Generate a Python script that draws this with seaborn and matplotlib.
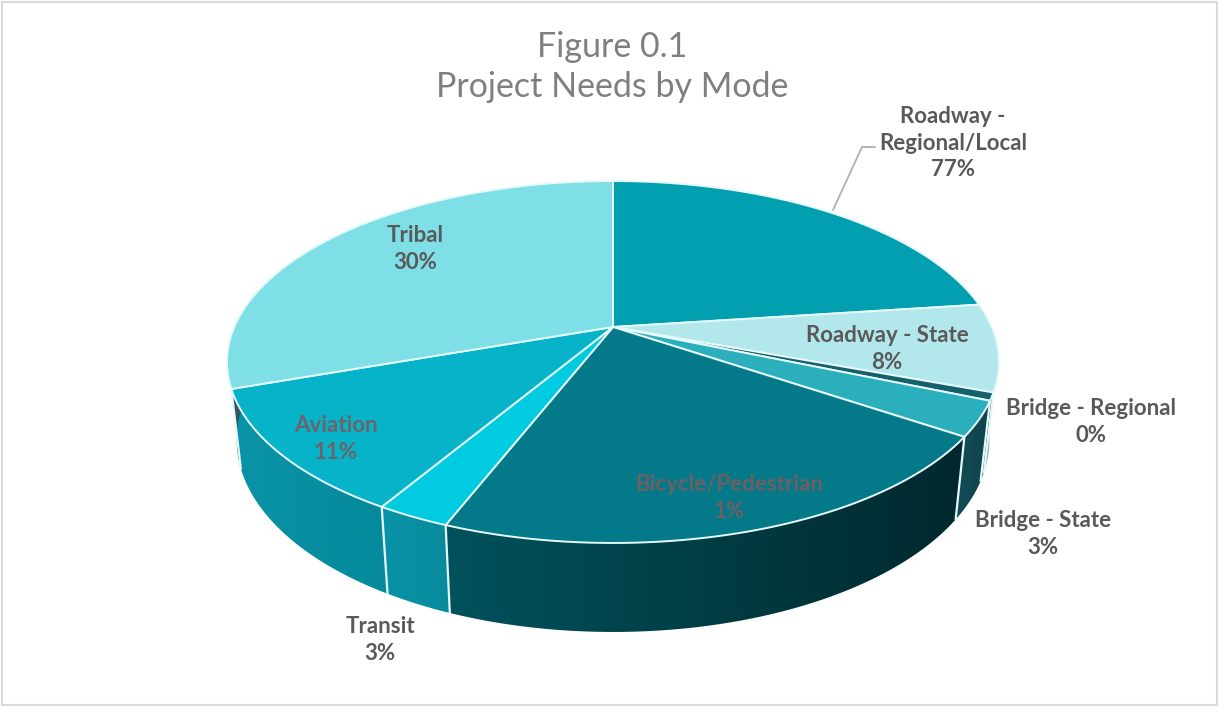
import numpy as np
import pandas as pd
import seaborn as sns
import matplotlib.pyplot as plt
from matplotlib.colors import LinearSegmentedColormap
from matplotlib.patches import Polygon, Rectangle

modes = ['Roadway -\nRegional/Local', 'Roadway - State', 'Bridge - Regional', 'Bridge - State',
         'Bicycle/Pedestrian', 'Transit', 'Aviation', 'Tribal']
shares = [22.9, 7.8, 0.7, 3.1, 21.4, 2.6, 11.1, 30.4]
printed = ['77%', '8%', '0%', '3%', '1%', '3%', '11%', '30%']

top_colors = ['#029fb0', '#b2e8ec', '#14606c', '#2bafbd', '#04798a', '#00cbe0', '#07b3c9', '#7fdfe6']
wall_left = ['#0a8ea1', '#8fc4cb', '#1c5a63', '#134c55', '#00525c', '#0a93a8', '#0a93a8', '#2d5a62']
wall_right = ['#0a8ea1', '#6a9ea6', '#14444c', '#0f434b', '#00282d', '#088a9c', '#05899b', '#2d5a62']

label_x = [953, 887, 1091, 1043, 729, 380, 336, 415]
label_y = [143, 349, 422, 534, 498, 640, 439, 249]
label_colors = ['#595959', '#595959', '#595959', '#595959', '#6e5f62', '#595959', '#6b6468', '#595959']

df = pd.DataFrame({'mode': modes, 'share': shares, 'printed': printed})

# pie geometry in image pixels
APEX_X, APEX_Y = 613, 327
K = 0.1934
A = 174.2
B = 378.7
BOTTOM_Y = 632
TOP_FRONT_Y = 543


def project(angle):
    # tilted circle, angle clockwise from 12 o'clock
    u, v = np.sin(angle), -np.cos(angle)
    d = 1 - K * v
    return APEX_X + B * u / d, APEX_Y + A * v / d


def drop(x, y):
    # matching point on the lower rim
    return APEX_X + 0.975 * (x - APEX_X), BOTTOM_Y - 1.06 * (TOP_FRONT_Y - y)


sns.set_theme(style='white')
plt.rcParams['font.family'] = ['Lato', 'DejaVu Sans']

fig = plt.figure(figsize=(12.2, 7.07), dpi=100)
ax = fig.add_axes([0, 0, 1, 1])
ax.axis('off')

ax.add_patch(Rectangle((2, 2), 1215, 703, fill=False, ec='#d9d9d9', lw=1.5))

palette = sns.color_palette(top_colors)
edges = np.radians(np.concatenate([[0], np.cumsum(df['share'])]) * 360 / df['share'].sum())
ramp = np.linspace(0, 1, 256).reshape(1, -1)

# side wall first, each slice gets a left to right gradient clipped to its outline
for i in range(len(df)):
    a = np.linspace(edges[i], edges[i + 1], 80)
    x, y = project(a)
    xb, yb = drop(x, y)
    px, py = np.r_[x, xb[::-1]], np.r_[y, yb[::-1]]
    cmap = LinearSegmentedColormap.from_list('wall', [wall_left[i], wall_right[i]])
    im = ax.imshow(ramp, cmap=cmap, aspect='auto', interpolation='bilinear', zorder=2,
                   extent=[px.min(), px.max(), py.max(), py.min()])
    outline = Polygon(np.c_[px, py], closed=True, transform=ax.transData)
    im.set_clip_path(outline)
    if 1.75 < edges[i] < 4.6:
        ax.plot([x[0], xb[0]], [y[0], yb[0]], color='#e6f9fa', lw=1.6, zorder=3)

ax.set_xlim(0, 1220)
ax.set_ylim(707, 0)

# top face
for i in range(len(df)):
    a = np.linspace(edges[i], edges[i + 1], 120)
    x, y = project(a)
    ax.fill(np.r_[APEX_X, x], np.r_[APEX_Y, y], color=palette[i], ec='#e6f9fa', lw=1.4, zorder=4,
            joinstyle='round')

# leader for the first label
ax.plot([833, 862, 875], [210, 147, 147], color='#b0b0b0', lw=1.3, zorder=5)

for i, row in df.iterrows():
    ax.text(label_x[i], label_y[i], row['mode'] + '\n' + row['printed'], ha='center', va='center',
            fontsize=16, fontweight='bold', color=label_colors[i], linespacing=1.35, zorder=6)

ax.text(612, 67, 'Figure 0.1\nProject Needs by Mode', ha='center', va='center', fontsize=24.5,
        color='#7f7f7f', linespacing=1.3, zorder=6)

fig.savefig('out.png', dpi=100)
